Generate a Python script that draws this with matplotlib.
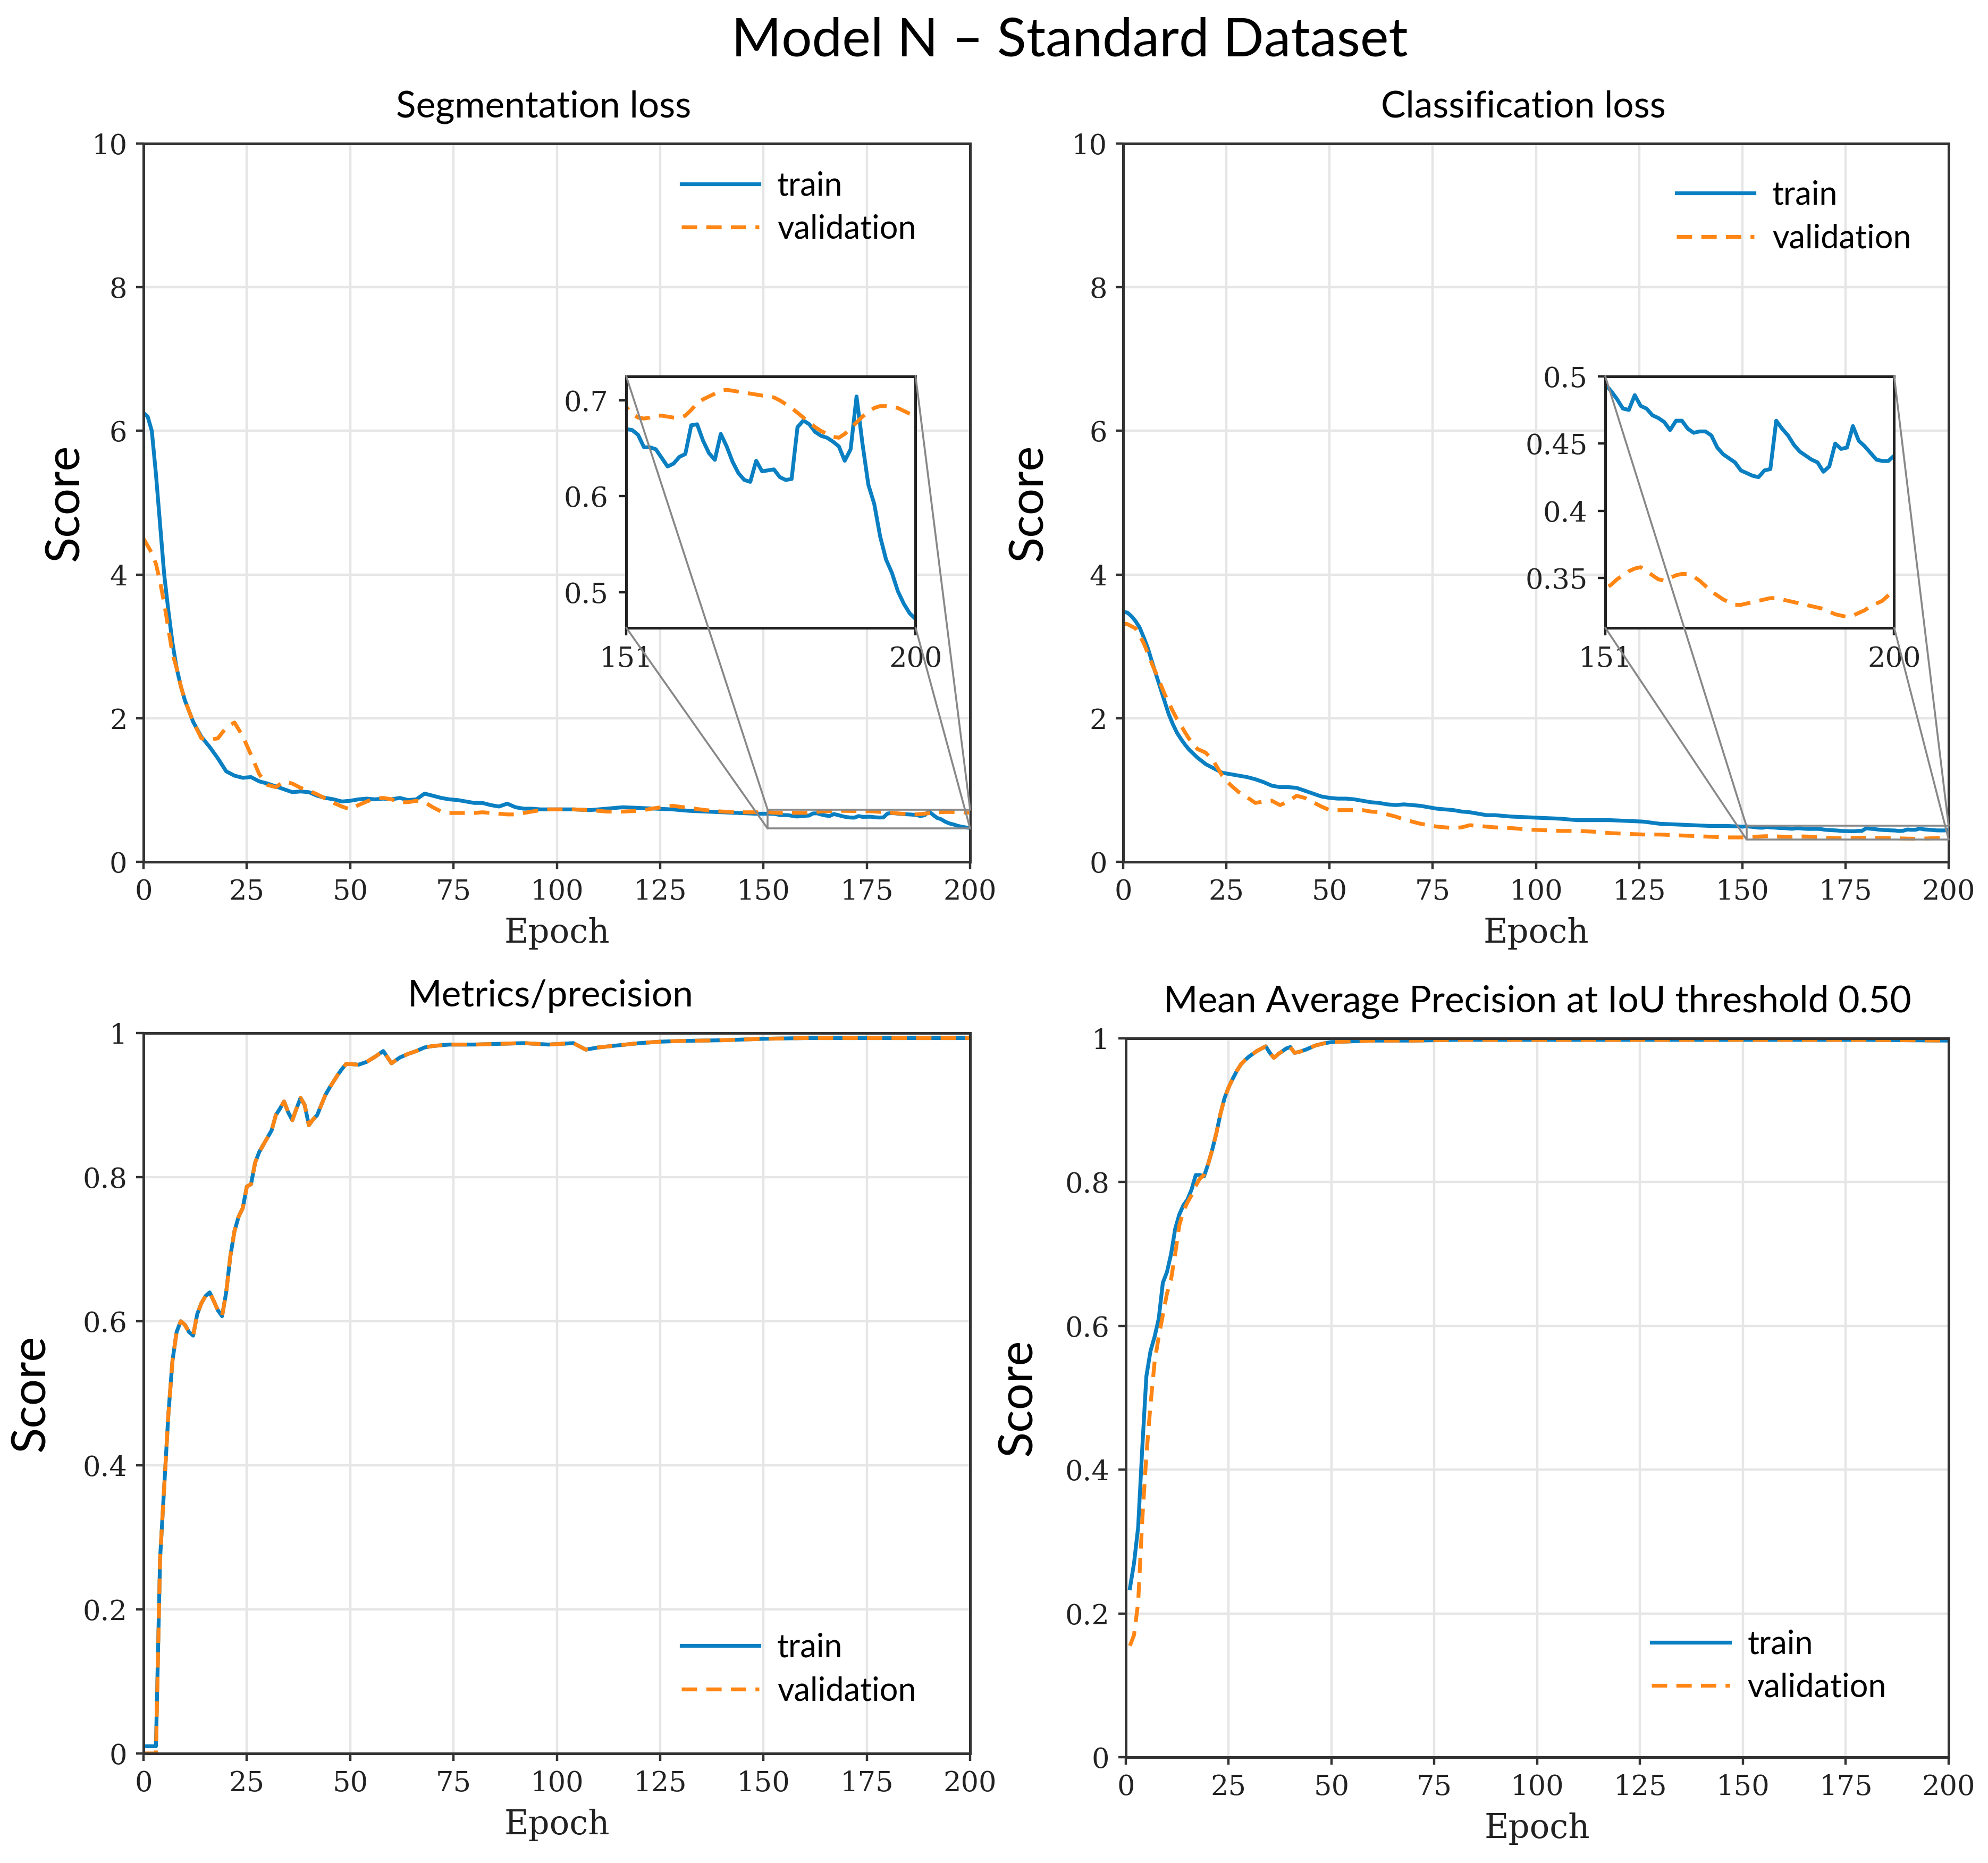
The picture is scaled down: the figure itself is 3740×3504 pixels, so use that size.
import matplotlib
matplotlib.use('Agg')
import matplotlib.pyplot as plt
from matplotlib.patches import Rectangle, ConnectionPatch
from matplotlib.ticker import FuncFormatter

# ---------------- data ----------------
tail_ep = list(range(151, 201))

seg_ep = [0, 1, 2, 3, 4, 5, 6, 7, 8, 9, 10, 11, 12,
          14, 16, 18, 20, 22, 24, 26, 28, 30, 32, 34, 36, 38, 40, 42, 44, 46, 48,
          50, 52, 54, 56, 58, 60, 62, 64, 66, 68, 70, 72, 74, 76, 78, 80, 82, 84,
          86, 88, 90, 92, 94, 96, 98, 100,
          104, 108, 112, 116, 120, 124, 128, 132, 136, 140, 144, 148, 150] + tail_ep
seg_train = [6.25, 6.2, 6.0, 5.4, 4.7, 4.0, 3.5, 3.05, 2.7, 2.45, 2.25, 2.1, 1.95,
             1.74, 1.6, 1.44, 1.26, 1.2, 1.17, 1.18, 1.12, 1.09, 1.05, 1.01, 0.97, 0.98,
             0.97, 0.92, 0.89, 0.87, 0.84, 0.85, 0.87, 0.88, 0.87, 0.88, 0.87, 0.89, 0.86,
             0.87, 0.95, 0.92, 0.89, 0.87, 0.86, 0.84, 0.82, 0.82, 0.79, 0.77, 0.81, 0.76,
             0.74, 0.74, 0.73, 0.73, 0.73,
             0.73, 0.72, 0.74, 0.76, 0.75, 0.74, 0.73, 0.71, 0.70, 0.69, 0.68, 0.67, 0.67,
             0.670, 0.669, 0.664, 0.651, 0.651, 0.649, 0.640, 0.631, 0.634, 0.641,
             0.644, 0.674, 0.675, 0.658, 0.645, 0.638, 0.665, 0.652, 0.636, 0.624,
             0.617, 0.615, 0.637, 0.626, 0.627, 0.628, 0.620, 0.617, 0.618, 0.672,
             0.679, 0.675, 0.667, 0.663, 0.661, 0.657, 0.652, 0.637, 0.649, 0.704,
             0.655, 0.612, 0.592, 0.558, 0.534, 0.520, 0.501, 0.488, 0.478, 0.472]
seg_val = [4.5, 4.4, 4.3, 4.15, 3.9, 3.6, 3.25, 2.9, 2.7, 2.45, 2.25, 2.1, 1.95,
           1.72, 1.70, 1.72, 1.87, 1.94, 1.75, 1.49, 1.22, 1.07, 1.04, 1.12, 1.09, 1.03,
           0.99, 0.94, 0.88, 0.82, 0.77, 0.73, 0.79, 0.84, 0.88, 0.89, 0.87, 0.83, 0.83,
           0.85, 0.83, 0.76, 0.70, 0.68, 0.68, 0.68, 0.68, 0.69, 0.68, 0.67, 0.66, 0.66,
           0.68, 0.70, 0.72, 0.73, 0.73,
           0.73, 0.72, 0.70, 0.70, 0.71, 0.75, 0.78, 0.75, 0.72, 0.70, 0.69, 0.69, 0.69,
           0.693, 0.686, 0.682, 0.681, 0.682, 0.684, 0.684, 0.683, 0.682, 0.682,
           0.684, 0.690, 0.697, 0.701, 0.704, 0.707, 0.710, 0.711, 0.710, 0.709,
           0.708, 0.707, 0.706, 0.705, 0.704, 0.703, 0.700, 0.696, 0.692, 0.687,
           0.682, 0.677, 0.672, 0.668, 0.665, 0.662, 0.661, 0.665, 0.671, 0.677,
           0.683, 0.688, 0.692, 0.694, 0.694, 0.693, 0.692, 0.689, 0.686, 0.684]

cls_ep = list(range(0, 17)) + list(range(18, 91, 2)) + list(range(94, 151, 4)) + tail_ep
cls_train = [3.48, 3.47, 3.42, 3.35, 3.26, 3.12, 2.97, 2.78, 2.6, 2.42, 2.24, 2.06, 1.92,
             1.8, 1.71, 1.63, 1.56,
             1.45, 1.36, 1.3, 1.24, 1.22, 1.2, 1.18, 1.15, 1.11, 1.06, 1.04, 1.04, 1.03,
             0.99, 0.95, 0.91, 0.89, 0.88, 0.88, 0.87, 0.85, 0.83, 0.82, 0.80, 0.79, 0.80,
             0.79, 0.78, 0.76, 0.74, 0.73, 0.72, 0.70, 0.69, 0.67, 0.65, 0.65,
             0.63, 0.62, 0.61, 0.60, 0.58, 0.58, 0.58, 0.57, 0.56, 0.53, 0.52, 0.51, 0.50,
             0.50, 0.49,
             0.494, 0.489, 0.483, 0.476, 0.475, 0.486, 0.478, 0.476, 0.471, 0.469,
             0.466, 0.460, 0.467, 0.467, 0.461, 0.458, 0.459, 0.459, 0.456, 0.447,
             0.442, 0.439, 0.436, 0.430, 0.428, 0.426, 0.425, 0.430, 0.431, 0.467,
             0.461, 0.456, 0.449, 0.444, 0.441, 0.438, 0.436, 0.429, 0.433, 0.450,
             0.446, 0.447, 0.463, 0.452, 0.448, 0.443, 0.438, 0.437, 0.437, 0.441]
cls_val = [3.32, 3.31, 3.28, 3.25, 3.15, 3.04, 2.9, 2.75, 2.62, 2.48, 2.34, 2.22, 2.1,
           1.99, 1.9, 1.8, 1.71,
           1.57, 1.52, 1.39, 1.2, 1.07, 0.97, 0.9, 0.82, 0.84, 0.85, 0.79, 0.84, 0.92,
           0.89, 0.83, 0.77, 0.72, 0.72, 0.72, 0.72, 0.72, 0.70, 0.69, 0.66, 0.63, 0.59,
           0.56, 0.53, 0.51, 0.49, 0.48, 0.47, 0.48, 0.51, 0.50, 0.49, 0.48,
           0.47, 0.45, 0.44, 0.43, 0.43, 0.42, 0.40, 0.39, 0.38, 0.38, 0.37, 0.36, 0.35,
           0.34, 0.34,
           0.342, 0.345, 0.349, 0.352, 0.355, 0.357, 0.358, 0.355, 0.352, 0.349,
           0.348, 0.350, 0.352, 0.353, 0.353, 0.351, 0.348, 0.344, 0.340, 0.337,
           0.334, 0.332, 0.330, 0.330, 0.331, 0.332, 0.333, 0.334, 0.335, 0.335,
           0.334, 0.333, 0.332, 0.331, 0.330, 0.329, 0.328, 0.327, 0.325, 0.323,
           0.322, 0.321, 0.322, 0.324, 0.326, 0.329, 0.331, 0.333, 0.337, 0.341]

prec_ep = list(range(0, 51)) + list(range(52, 71, 2)) + [74, 80, 86, 92, 98, 104, 107, 110,
                                                         115, 120, 125, 130, 140, 150, 160,
                                                         170, 180, 190, 200]
prec_train = [0.01, 0.01, 0.01, 0.01, 0.27, 0.37, 0.47, 0.545, 0.585, 0.60,
              0.595, 0.585, 0.58, 0.61, 0.625, 0.635, 0.64, 0.628, 0.615, 0.607,
              0.64, 0.69, 0.725, 0.745, 0.757, 0.787, 0.79, 0.82, 0.835, 0.845,
              0.855, 0.865, 0.886, 0.895, 0.905, 0.89, 0.879, 0.895, 0.91, 0.90,
              0.872, 0.88, 0.886, 0.90, 0.914, 0.924, 0.933, 0.942, 0.95, 0.957, 0.957,
              0.956, 0.96, 0.967, 0.975, 0.958, 0.966, 0.971, 0.975, 0.98, 0.982,
              0.984, 0.984, 0.985, 0.986, 0.984, 0.986, 0.977, 0.98, 0.983, 0.986,
              0.988, 0.989, 0.99, 0.992, 0.993, 0.993, 0.993, 0.993, 0.993]
prec_val = [0.0, 0.0, 0.0, 0.0, 0.27, 0.37, 0.47, 0.545, 0.585, 0.60,
            0.595, 0.585, 0.58, 0.61, 0.625, 0.635, 0.64, 0.628, 0.615, 0.607,
            0.64, 0.69, 0.725, 0.745, 0.757, 0.787, 0.79, 0.82, 0.835, 0.845,
            0.855, 0.865, 0.886, 0.895, 0.905, 0.89, 0.879, 0.895, 0.91, 0.90,
            0.872, 0.88, 0.886, 0.90, 0.914, 0.924, 0.933, 0.942, 0.95, 0.957, 0.957,
            0.956, 0.96, 0.967, 0.975, 0.958, 0.966, 0.971, 0.975, 0.98, 0.982,
            0.984, 0.984, 0.985, 0.986, 0.984, 0.986, 0.977, 0.98, 0.983, 0.986,
            0.988, 0.989, 0.99, 0.992, 0.993, 0.993, 0.993, 0.993, 0.993]

map_ep = list(range(1, 43)) + [44, 46, 48, 50, 55, 60, 70, 80, 90, 100, 120, 140, 160, 180, 200]
map_train = [0.235, 0.27, 0.32, 0.43, 0.53, 0.565, 0.585, 0.61, 0.66, 0.675,
             0.70, 0.735, 0.755, 0.768, 0.776, 0.79, 0.81, 0.81, 0.808, 0.825,
             0.845, 0.868, 0.895, 0.917, 0.932, 0.944, 0.955, 0.964, 0.970, 0.975,
             0.979, 0.983, 0.986, 0.989, 0.98, 0.973, 0.978, 0.982, 0.986, 0.988,
             0.98, 0.981,
             0.985, 0.99, 0.993, 0.995, 0.996, 0.997, 0.997, 0.998, 0.998, 0.998,
             0.998, 0.998, 0.998, 0.998, 0.997]
map_val = [0.155, 0.17, 0.215, 0.33, 0.42, 0.49, 0.55, 0.585, 0.615, 0.645,
           0.665, 0.70, 0.74, 0.76, 0.772, 0.782, 0.795, 0.805, 0.81, 0.825,
           0.845, 0.868, 0.895, 0.917, 0.932, 0.944, 0.955, 0.964, 0.970, 0.975,
           0.979, 0.983, 0.986, 0.989, 0.98, 0.973, 0.978, 0.982, 0.986, 0.988,
           0.98, 0.981,
           0.985, 0.99, 0.993, 0.995, 0.996, 0.997, 0.997, 0.998, 0.998, 0.998,
           0.998, 0.998, 0.998, 0.998, 0.997]

titles = ['Segmentation loss', 'Classification loss', 'Metrics/precision',
          'Mean Average Precision at IoU threshold 0.50']
legend_labels = ['train', 'validation']
x_ticks = [0, 25, 50, 75, 100, 125, 150, 175, 200]
loss_ticks = [0, 2, 4, 6, 8, 10]
score_ticks = [0, 0.2, 0.4, 0.6, 0.8, 1]
seg_inset_ticks = [0.5, 0.6, 0.7]
cls_inset_ticks = [0.35, 0.4, 0.45, 0.5]

# ---------------- style ----------------
BLUE = '#0a7fc2'
ORANGE = '#ff8614'
SANS = 'Lato'
SERIF = 'DejaVu Serif'
SPINE = '#333333'

plt.rcParams['font.family'] = SERIF

fig = plt.figure(figsize=(18.7, 17.52), dpi=200)

ax_seg = fig.add_axes([0.0722, 0.5374, 0.4158, 0.3855])
ax_cls = fig.add_axes([0.5650, 0.5374, 0.4152, 0.3855])
ax_prec = fig.add_axes([0.0722, 0.0588, 0.4158, 0.3867])
ax_map = fig.add_axes([0.5663, 0.0568, 0.4139, 0.3858])


def style_axes(ax, yticks, ylim, ypad):
    ax.set_xlim(0, 200)
    ax.set_ylim(*ylim)
    ax.set_xticks(x_ticks)
    ax.set_yticks(yticks)
    ax.yaxis.set_major_formatter(FuncFormatter(lambda v, p: f'{v:g}'))
    ax.grid(True, color='#e6e6e6', linewidth=1.6)
    ax.set_axisbelow(True)
    for s in ax.spines.values():
        s.set_color(SPINE)
        s.set_linewidth(1.8)
    ax.tick_params(axis='both', direction='out', length=5, width=1.6,
                   color=SPINE, labelsize=19, labelcolor='#222222', pad=6,
                   top=False, right=False)
    ax.set_xlabel('Epoch', fontsize=22.5, family=SERIF, color='#222222', labelpad=8)
    ax.set_ylabel('Score', fontsize=32, family=SANS, labelpad=ypad)


def plot_pair(ax, ep_t, y_t, ep_v, y_v):
    ax.plot(ep_t, y_t, color=BLUE, lw=2.6, label=legend_labels[0], zorder=2)
    ax.plot(ep_v, y_v, color=ORANGE, lw=2.6, dashes=(4, 2.4),
            label=legend_labels[1], zorder=2.1)


def add_legend(ax, loc, anchor):
    ax.legend(loc=loc, bbox_to_anchor=anchor, frameon=False,
              prop={'family': SANS, 'size': 22}, handlelength=2.4,
              handletextpad=0.55, labelspacing=0.4)


def add_zoom(ax, ep_t, y_t, ep_v, y_v, ylim, yticks):
    axins = ax.inset_axes([0.584, 0.326, 0.35, 0.35])
    plot_pair(axins, ep_t, y_t, ep_v, y_v)
    axins.set_xlim(151, 200)
    axins.set_ylim(*ylim)
    axins.set_xticks([151, 200])
    axins.set_yticks(yticks)
    axins.yaxis.set_major_formatter(FuncFormatter(lambda v, p: f'{v:g}'))
    for s in axins.spines.values():
        s.set_color('#222222')
        s.set_linewidth(1.8)
    axins.tick_params(axis='both', direction='out', length=5, width=1.6,
                      color='#222222', labelsize=19, labelcolor='#222222', pad=7,
                      top=False, right=False)
    x0, x1 = axins.get_xlim()
    y0, y1 = axins.get_ylim()
    ax.add_patch(Rectangle((x0, y0), x1 - x0, y1 - y0, fill=False,
                           edgecolor='#888888', lw=1.3, zorder=3))
    # connectors are drawn over the inset, as in the source figure
    for fx, fy, dx, dy in [(0, 0, x0, y0), (0, 1, x0, y1), (1, 0, x1, y0), (1, 1, x1, y1)]:
        con = ConnectionPatch(xyA=(fx, fy), coordsA=axins.transAxes,
                              xyB=(dx, dy), coordsB=ax.transData,
                              color='#888888', lw=1.3, zorder=6)
        fig.add_artist(con)
    return axins


# Segmentation loss
plot_pair(ax_seg, seg_ep, seg_train, seg_ep, seg_val)
style_axes(ax_seg, loss_ticks, (0, 10), 3)
add_legend(ax_seg, 'upper right', (0.97, 1.003))
add_zoom(ax_seg, seg_ep, seg_train, seg_ep, seg_val, (0.463, 0.725), seg_inset_ticks)

# Classification loss
plot_pair(ax_cls, cls_ep, cls_train, cls_ep, cls_val)
style_axes(ax_cls, loss_ticks, (0, 10), 14)
add_legend(ax_cls, 'upper right', (0.99, 0.99))
add_zoom(ax_cls, cls_ep, cls_train, cls_ep, cls_val, (0.313, 0.5), cls_inset_ticks)

# Precision
plot_pair(ax_prec, prec_ep, prec_train, prec_ep, prec_val)
style_axes(ax_prec, score_ticks, (0, 1), 20)
add_legend(ax_prec, 'lower right', (0.97, 0.025))

# mAP
plot_pair(ax_map, map_ep, map_train, map_ep, map_val)
style_axes(ax_map, score_ticks, (0, 1), 17)
add_legend(ax_map, 'lower right', (0.96, 0.035))

title_x = [0.484, 0.485, 0.492, 0.5]
for ax, t, tx in zip([ax_seg, ax_cls, ax_prec, ax_map], titles, title_x):
    ax.set_title(t, fontsize=25, family=SANS, pad=18, x=tx)

fig.text(0.538, 0.978, 'Model N \u2013 Standard Dataset', fontsize=36.5,
         family=SANS, ha='center', va='center')

fig.savefig('out.png', dpi=200, facecolor='white')
